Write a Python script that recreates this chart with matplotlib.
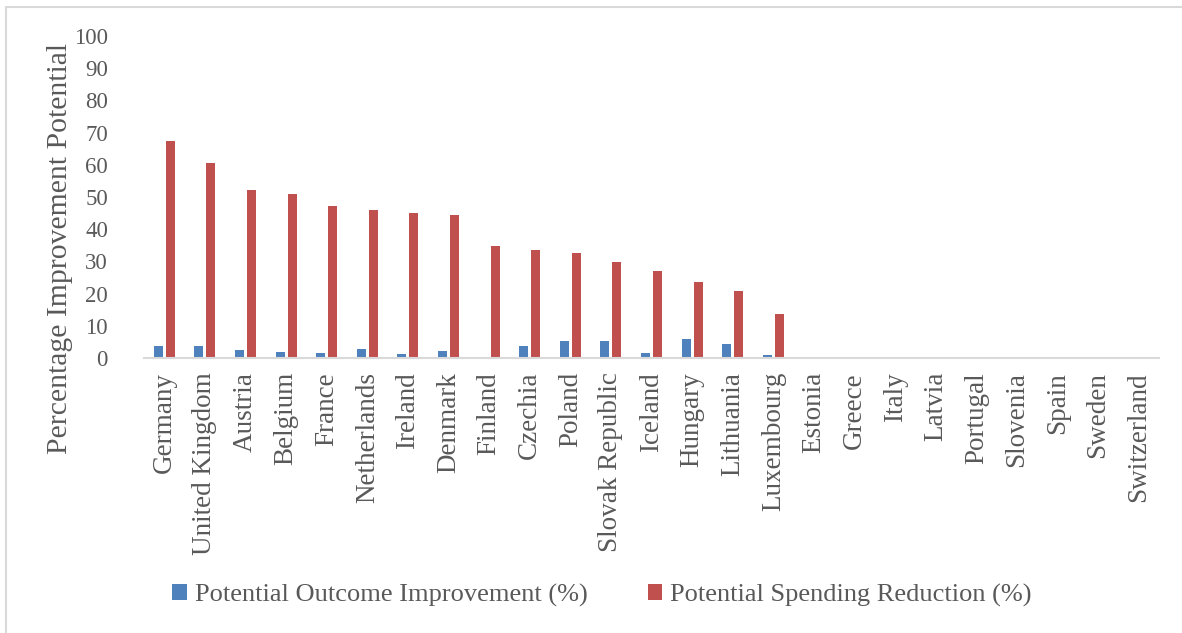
import matplotlib
matplotlib.use("Agg")
import matplotlib.pyplot as plt
import numpy as np
from matplotlib.patches import Rectangle

countries = ["Germany", "United Kingdom", "Austria", "Belgium", "France", "Netherlands",
             "Ireland", "Denmark", "Finland", "Czechia", "Poland", "Slovak Republic",
             "Iceland", "Hungary", "Lithuania", "Luxembourg", "Estonia", "Greece", "Italy",
             "Latvia", "Portugal", "Slovenia", "Spain", "Sweden", "Switzerland"]
outcome = [3.6, 3.6, 2.4, 1.8, 1.4, 2.7, 1.3, 2.2, 0.2, 3.6, 5.2, 5.2,
           1.4, 5.8, 4.4, 0.9, 0, 0, 0, 0, 0, 0, 0, 0, 0]
spending = [67.3, 60.7, 52.1, 51.0, 47.1, 46.0, 45.1, 44.3, 34.8, 33.6, 32.7, 29.8,
            27.1, 23.6, 20.8, 13.7, 0, 0, 0, 0, 0, 0, 0, 0, 0]

BLUE = "#4F81BD"
RED = "#C0504D"
GREY = "#595959"
FONT = "Liberation Serif"
plt.rcParams["font.family"] = FONT

fig = plt.figure(figsize=(11.82, 6.33), dpi=100)
ax = fig.add_axes([144 / 1182, 1 - 358 / 633, 1015 / 1182, 322 / 633])

x = np.arange(len(countries))
w = 0.22
ax.bar(x - 0.148, outcome, w, color=BLUE, label="Potential Outcome Improvement (%)")
ax.bar(x + 0.148, spending, w, color=RED, label="Potential Spending Reduction (%)")

ax.set_xlim(-0.5, len(countries) - 0.5)
ax.set_ylim(0, 100)
ax.set_yticks(range(0, 101, 10))
ax.set_xticks(x)
ax.set_xticklabels(countries, rotation=90, fontsize=19.5)
ax.tick_params(axis="both", length=0, labelcolor=GREY)
ax.tick_params(axis="y", pad=26, labelsize=16.5)
ax.tick_params(axis="x", pad=10)
for side in ("top", "right", "left"):
    ax.spines[side].set_visible(False)
ax.spines["bottom"].set_color("#D9D9D9")
ax.spines["bottom"].set_linewidth(1.5)

fig.text(60 / 1182, 1 - 249 / 633, "Percentage Improvement Potential", rotation=90,
         ha="center", va="center", fontsize=21.4, color=GREY)

fig.legend(loc="center", bbox_to_anchor=(602 / 1182, 1 - 595 / 633), ncol=2,
           frameon=False, fontsize=19.0, labelcolor=GREY, handlelength=0.55,
           handleheight=0.55, handletextpad=0.3, columnspacing=2.3)

# thin frame around the chart area
fig.patches.append(Rectangle((6 / 1182, -0.01), 1.02, 1 - 7 / 633 + 0.01,
                             transform=fig.transFigure, fill=False,
                             edgecolor="#D9D9D9", linewidth=1.5))

fig.savefig("out.png", dpi=100)
